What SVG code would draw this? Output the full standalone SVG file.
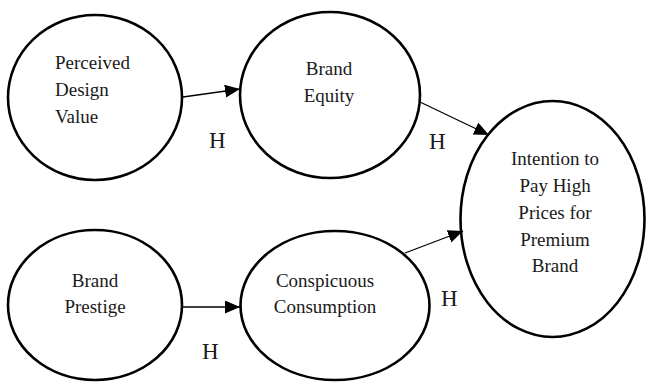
<svg xmlns="http://www.w3.org/2000/svg" width="646" height="382" viewBox="0 0 646 382">
<defs>
<style>
.node{fill:#fff;stroke:#000;stroke-width:2.6}
.lbl{font-family:"Liberation Serif","Times New Roman",serif;font-size:19px;fill:#1a1a1a}
.c{text-anchor:middle}
.h{font-family:"Liberation Serif","Times New Roman",serif;font-size:23px;fill:#1a1a1a}
.edge{stroke:#000;stroke-width:1.3;fill:none}
</style>
<marker id="arr" markerUnits="userSpaceOnUse" markerWidth="16" markerHeight="14" refX="15" refY="6.5" orient="auto">
<path d="M0,0 L15,6.5 L0,13 z" fill="#000"/>
</marker>
</defs>
<rect width="646" height="382" fill="#fff"/>
<g id="n-pdv">
<ellipse class="node" cx="95" cy="97.5" rx="87" ry="82.5"/>
<text class="lbl" x="55" y="69">Perceived</text>
<text class="lbl" x="55" y="96">Design</text>
<text class="lbl" x="55" y="123">Value</text>
</g>
<g id="n-be">
<ellipse class="node" cx="330" cy="95" rx="90" ry="83"/>
<text class="lbl c" x="329" y="75">Brand</text>
<text class="lbl c" x="329" y="102">Equity</text>
</g>
<g id="n-bp">
<ellipse class="node" cx="95" cy="305" rx="87" ry="75"/>
<text class="lbl c" x="95" y="287">Brand</text>
<text class="lbl c" x="95" y="313">Prestige</text>
</g>
<g id="n-cc">
<ellipse class="node" cx="335" cy="305.5" rx="94.5" ry="74.5"/>
<text class="lbl c" x="325" y="287">Conspicuous</text>
<text class="lbl c" x="325" y="313">Consumption</text>
</g>
<g id="n-int">
<ellipse class="node" cx="552.5" cy="219" rx="92" ry="118"/>
<text class="lbl c" x="555" y="165">Intention to</text>
<text class="lbl c" x="555" y="192">Pay High</text>
<text class="lbl c" x="555" y="219">Prices for</text>
<text class="lbl c" x="555" y="246">Premium</text>
<text class="lbl c" x="555" y="272">Brand</text>
</g>
<g id="connectors">
<line class="edge" x1="183" y1="97" x2="240" y2="89" marker-end="url(#arr)"/>
<line class="edge" x1="420" y1="102" x2="489" y2="135" marker-end="url(#arr)"/>
<line class="edge" x1="182" y1="307" x2="240" y2="307" marker-end="url(#arr)"/>
<line class="edge" x1="405" y1="253" x2="463" y2="231" marker-end="url(#arr)"/>
<text class="h" x="209" y="148">H</text>
<text class="h" x="429" y="149">H</text>
<text class="h" x="202" y="359">H</text>
<text class="h" x="441" y="306">H</text>
</g>
</svg>
